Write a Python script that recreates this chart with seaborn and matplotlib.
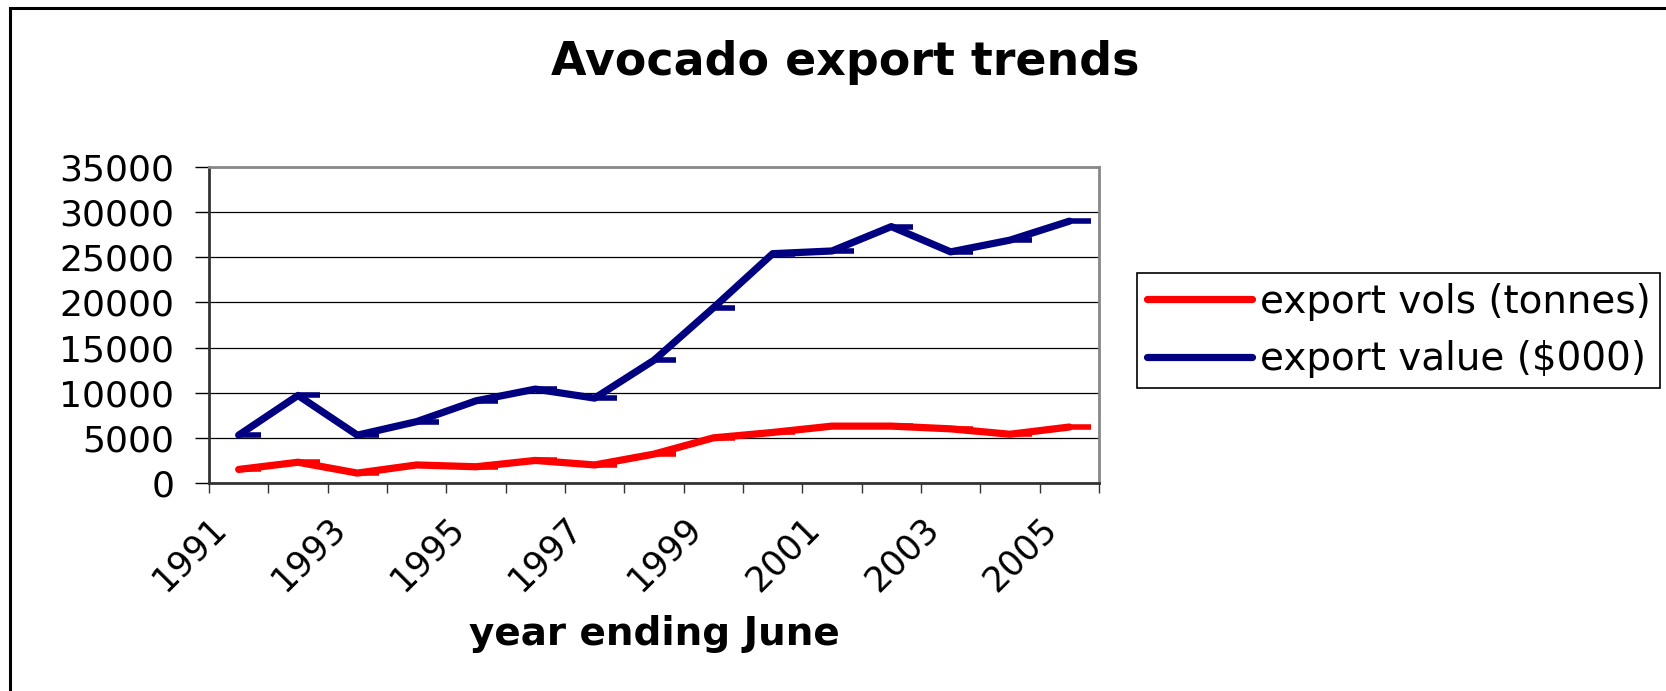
import numpy as np
import pandas as pd
import matplotlib
matplotlib.use("Agg")
import matplotlib.pyplot as plt
import seaborn as sns
from matplotlib.lines import Line2D
from matplotlib.path import Path
from matplotlib.patches import Rectangle

# Dados (ano terminando em junho)
years = list(range(1991, 2006))
export_vols = [1500, 2300, 1100, 2000, 1800, 2500, 2000, 3200, 5000, 5600, 6300, 6300, 6000, 5400, 6200]
export_value = [5300, 9700, 5300, 6800, 9100, 10400, 9400, 13600, 19400, 25400, 25700, 28400, 25600, 26900, 29000]
series_names = ['export vols (tonnes)', 'export value ($000)']
series_colors = ['#FF0000', '#000080']

df = pd.DataFrame({'year': years, 'pos': np.arange(len(years)),
                   series_names[0]: export_vols, series_names[1]: export_value})

sns.set_style('white')
plt.rcParams['font.family'] = ['DejaVu Sans']
plt.rcParams['text.color'] = 'black'
plt.rcParams['xtick.color'] = 'black'
plt.rcParams['ytick.color'] = 'black'

W, H = 1666, 691
fig = plt.figure(figsize=(W / 100, H / 100), dpi=100)
ax = fig.add_axes([209 / W, 1 - 483 / H, (1099 - 209) / W, (483 - 167) / H])

# marcador "traço" estilo Excel, saindo do ponto para a direita
dash = Path([(0, 0), (1, 0)], [Path.MOVETO, Path.LINETO])

for name, color in zip(series_names, series_colors):
    sns.lineplot(data=df, x='pos', y=name, color=color, linewidth=5.2,
                 marker=dash, markersize=32, markeredgewidth=4,
                 markeredgecolor=color, solid_capstyle='round',
                 solid_joinstyle='round', ax=ax, zorder=3)

ax.set_xlim(-0.5, len(years) - 0.5)
ax.set_ylim(0, 35000)
ax.set_yticks(np.arange(0, 35001, 5000))

# ticks nas fronteiras das categorias, rótulo a cada dois anos
bounds = np.arange(len(years) + 1) - 0.5
labels = [str(y) if i % 2 == 0 else '' for i, y in enumerate(years)] + ['']
ax.set_xticks(bounds, labels)

ax.set_xlabel('')
ax.set_ylabel('')
ax.yaxis.grid(True, color='black', linewidth=0.9)
ax.xaxis.grid(False)

ax.tick_params(axis='y', left=True, direction='out', length=10, width=1,
               color='black', labelcolor='black', pad=15, labelsize=26)
ax.tick_params(axis='x', bottom=True, direction='out', length=7, width=1,
               color='#333333', labelcolor='black', pad=13, labelsize=25)
plt.setp(ax.get_xticklabels(), rotation=45, ha='right', va='top',
         rotation_mode='anchor')

for side in ['left', 'bottom']:
    ax.spines[side].set_color('#333333')
    ax.spines[side].set_linewidth(2)
for side in ['top', 'right']:
    ax.spines[side].set_color('#888888')
    ax.spines[side].set_linewidth(2)

fig.text(845 / W, 1 - 75 / H, 'Avocado export trends', ha='center',
         va='baseline', fontsize=33, fontweight='bold', color='black')
fig.text(654 / W, 1 - 645 / H, 'year ending June', ha='center',
         va='baseline', fontsize=28, fontweight='bold', color='black')

handles = [Line2D([0], [0], color=c, linewidth=5.2, solid_capstyle='round')
           for c in series_colors]
leg = fig.legend(handles, series_names, loc='upper left',
                 bbox_to_anchor=(1137 / W, 1 - 273 / H),
                 bbox_transform=fig.transFigure, fontsize=28, frameon=True,
                 fancybox=False, edgecolor='black', framealpha=1,
                 handlelength=2.7, handletextpad=0.2, borderpad=0.25,
                 labelspacing=0.5, borderaxespad=0)
leg.get_frame().set_linewidth(1.2)
for t in leg.get_texts():
    t.set_color('black')

# moldura externa do gráfico (cortada à direita e embaixo)
fig.add_artist(Rectangle((10 / W, -0.1), 1.2, (1 - 8 / H) + 0.1,
                         transform=fig.transFigure, fill=False,
                         edgecolor='black', linewidth=2.2))

fig.savefig('out.png', dpi=100)
